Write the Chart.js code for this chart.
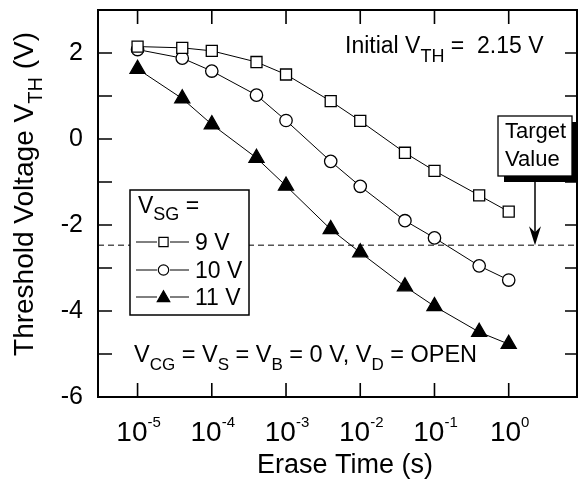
<!DOCTYPE html>
<html>
<head>
<meta charset="utf-8">
<script src="https://cdn.jsdelivr.net/npm/chart.js@4.4.0/dist/chart.umd.min.js"></script>
<style>
  html, body { margin: 0; padding: 0; background: #fff; overflow: hidden; }
  /* plot frame runs past the right edge, so the canvas is a bit wider than the view */
  #wrap { width: 582px; height: 482px; overflow: hidden; }
</style>
</head>
<body>
<div id="wrap"><canvas id="eraseChart" width="587" height="482"></canvas></div>
<script>
// erase time (s) and threshold voltage (V) for each select-gate bias
const eraseTimes = [1e-5, 4e-5, 1e-4, 4e-4, 1e-3, 4e-3, 1e-2, 4e-2, 1e-1, 4e-1, 1];
const vth9V = [2.15, 2.12, 2.05, 1.79, 1.5, 0.88, 0.42, -0.32, -0.74, -1.31, -1.69];
const vth10V = [2.08, 1.88, 1.58, 1.02, 0.43, -0.52, -1.1, -1.9, -2.3, -2.95, -3.28];
const vth11V = [1.63, 0.94, 0.34, -0.44, -1.09, -2.1, -2.64, -3.43, -3.89, -4.49, -4.77];
const seriesLabels = ["9 V", "10 V", "11 V"];
const targetVth = -2.47;
const decadeTicks = [-5, -4, -3, -2, -1, 0];

const FONT = "'Liberation Sans', Arial, sans-serif";
const xMin = Math.pow(10, -5.533);
const xMax = Math.pow(10, 0.92);

function toPoints(ys) {
  return eraseTimes.map((t, i) => ({ x: t, y: ys[i] }));
}

// draw a run of text pieces: [text, size, dy]
function drawParts(ctx, parts, x, y, align) {
  let total = 0;
  parts.forEach((p) => {
    ctx.font = p[1] + "px " + FONT;
    total += ctx.measureText(p[0]).width;
  });
  let cx = align === "center" ? x - total / 2 : x;
  ctx.textAlign = "left";
  ctx.textBaseline = "alphabetic";
  parts.forEach((p) => {
    ctx.font = p[1] + "px " + FONT;
    ctx.fillText(p[0], cx, y + (p[2] || 0));
    cx += ctx.measureText(p[0]).width;
  });
  return total;
}

const markerStyles = [
  { pointStyle: "rect", radius: 7.8, fill: "#fff" },
  { pointStyle: "circle", radius: 6.2, fill: "#fff" },
  { pointStyle: "triangle", radius: 8.7, fill: "#000" },
];

function makeSeries(ys, i) {
  const m = markerStyles[i];
  return {
    label: seriesLabels[i],
    data: toPoints(ys),
    borderColor: "#000",
    borderWidth: 1,
    pointStyle: m.pointStyle,
    pointRadius: m.radius,
    pointBackgroundColor: m.fill,
    pointBorderColor: "#000",
    pointBorderWidth: 1.3,
    tension: 0,
    order: 1,
  };
}

// frame, inward ticks and log tick labels
const framePlugin = {
  id: "frame",
  afterDatasetsDraw(chart) {
    const { ctx, chartArea: a, scales } = chart;
    const xs = scales.x, ys = scales.y;
    ctx.save();
    ctx.strokeStyle = "#000";
    ctx.lineWidth = 2;
    ctx.strokeRect(a.left, a.top, a.right - a.left, a.bottom - a.top);

    ctx.lineWidth = 1.6;
    ctx.beginPath();
    for (let v = -6; v <= 3; v++) {
      const py = ys.getPixelForValue(v);
      ctx.moveTo(a.left, py); ctx.lineTo(a.left + 14, py);
      ctx.moveTo(a.right, py); ctx.lineTo(a.right - 12, py);
    }
    decadeTicks.forEach((d) => {
      const px = xs.getPixelForValue(Math.pow(10, d));
      ctx.moveTo(px, a.bottom); ctx.lineTo(px, a.bottom - 14);
      ctx.moveTo(px, a.top); ctx.lineTo(px, a.top + 14);
    });
    ctx.stroke();

    ctx.fillStyle = "#000";
    decadeTicks.forEach((d) => {
      const px = xs.getPixelForValue(Math.pow(10, d));
      drawParts(ctx, [["10", 28], [String(d), 15, -14]], px + 1, 441, "center");
    });
    ctx.restore();
  },
};

// annotations: legend box, target box, conditions text, axis titles
const notesPlugin = {
  id: "notes",
  afterDraw(chart) {
    const { ctx, scales } = chart;
    const targetY = scales.y.getPixelForValue(targetVth);
    ctx.save();
    ctx.fillStyle = "#000";

    drawParts(ctx, [["Initial V", 23], ["TH", 18, 9], [" =  2.15 V", 23]], 345, 53);

    drawParts(ctx, [
      ["V", 23.5], ["CG", 17, 8], [" = V", 23.5], ["S", 17, 8], [" = V", 23.5], ["B", 17, 8],
      [" = 0 V, V", 23.5], ["D", 17, 8], [" = OPEN", 23.5],
    ], 134, 362);

    drawParts(ctx, [["Erase Time (s)", 27]], 345, 473, "center");

    ctx.save();
    ctx.translate(33, 194);
    ctx.rotate(-Math.PI / 2);
    drawParts(ctx, [["Threshold Voltage V", 28], ["TH", 20, 9], [" (V)", 28]], 0, 0, "center");
    ctx.restore();

    // select-gate legend
    const bx = 130, by = 190, bw = 119, bh = 125;
    ctx.fillStyle = "#fff";
    ctx.fillRect(bx, by, bw, bh);
    ctx.strokeStyle = "#000";
    ctx.lineWidth = 1.5;
    ctx.strokeRect(bx, by, bw, bh);
    ctx.fillStyle = "#000";
    drawParts(ctx, [["V", 23], ["SG", 18, 7], [" =", 23]], 138, 213);
    const rowY = [242, 270, 297];
    const legendMarks = [
      { style: "rect", r: 6.5 },
      { style: "circle", r: 5.2 },
      { style: "triangle", r: 7.2 },
    ];
    rowY.forEach((ry, i) => {
      ctx.strokeStyle = "#000";
      ctx.lineWidth = 1;
      ctx.beginPath();
      ctx.moveTo(136, ry); ctx.lineTo(157, ry);
      ctx.moveTo(170, ry); ctx.lineTo(189, ry);
      ctx.stroke();
      ctx.fillStyle = markerStyles[i].fill;
      ctx.lineWidth = 1.2;
      Chart.helpers.drawPoint(ctx, { pointStyle: legendMarks[i].style, radius: legendMarks[i].r, borderWidth: 1.2 }, 163.5, ry + (i === 2 ? 1 : 0));
      ctx.fillStyle = "#000";
      drawParts(ctx, [[seriesLabels[i], 23]], 195, ry + 8);
    });

    // target value callout
    const tx = 498, ty = 116, tw = 74, th = 60;
    ctx.fillStyle = "#000";
    ctx.fillRect(tx + 6, ty + 6, tw, th);
    ctx.fillStyle = "#fff";
    ctx.fillRect(tx, ty, tw, th);
    ctx.strokeStyle = "#000";
    ctx.lineWidth = 1.3;
    ctx.strokeRect(tx, ty, tw, th);
    ctx.fillStyle = "#000";
    drawParts(ctx, [["Target", 22]], tx + 7, ty + 22);
    drawParts(ctx, [["Value", 22]], tx + 7, ty + 50);

    const ax = 535;
    ctx.lineWidth = 1.5;
    ctx.beginPath();
    ctx.moveTo(ax, ty + th + 6);
    ctx.lineTo(ax, targetY - 4);
    ctx.stroke();
    ctx.beginPath();
    ctx.moveTo(ax, targetY);
    ctx.lineTo(ax - 6, targetY - 19);
    ctx.lineTo(ax, targetY - 13);
    ctx.lineTo(ax + 6, targetY - 19);
    ctx.closePath();
    ctx.fill();
    ctx.restore();
  },
};

const ctx = document.getElementById("eraseChart").getContext("2d");
new Chart(ctx, {
  type: "line",
  data: {
    datasets: [
      {
        label: "target",
        data: [{ x: xMin, y: targetVth }, { x: xMax, y: targetVth }],
        borderColor: "#555",
        borderWidth: 1.5,
        borderDash: [6, 4],
        pointRadius: 0,
        order: 2,
      },
      makeSeries(vth9V, 0),
      makeSeries(vth10V, 1),
      makeSeries(vth11V, 2),
    ],
  },
  options: {
    responsive: false,
    animation: false,
    layout: { padding: { top: 6, right: 0, left: 0, bottom: 0 } },
    plugins: { legend: { display: false }, tooltip: { enabled: false } },
    scales: {
      x: {
        type: "logarithmic",
        min: xMin,
        max: xMax,
        grid: { display: false },
        border: { display: false },
        ticks: { display: false },
        afterFit: (s) => {
          s.height = 85;
          s.paddingLeft = 0;
          s.paddingRight = 0;
        },
      },
      y: {
        min: -6,
        max: 3,
        grid: { display: false, drawTicks: false },
        border: { display: false },
        ticks: {
          stepSize: 1,
          padding: 15,
          color: "#000",
          font: { family: FONT, size: 25 },
          callback: (v) => (v % 2 === 0 ? String(v) : ""),
        },
        afterFit: (s) => {
          s.width = 98;
          s.paddingTop = 0;
          s.paddingBottom = 0;
        },
      },
    },
  },
  plugins: [framePlugin, notesPlugin],
});
</script>
</body>
</html>
